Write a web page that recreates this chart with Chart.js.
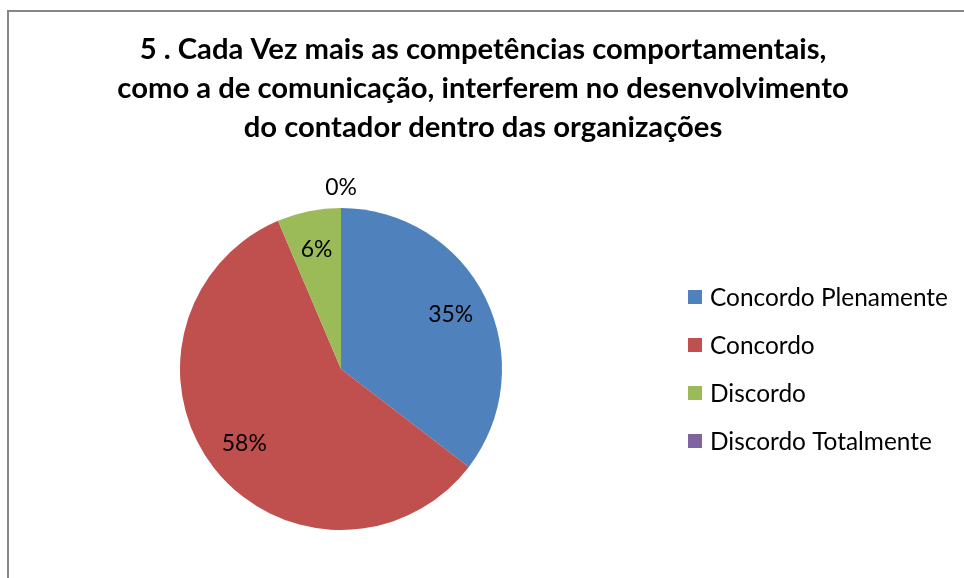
<!DOCTYPE html>
<html><head><meta charset="utf-8">
<script src="https://cdn.jsdelivr.net/npm/chart.js@4/dist/chart.umd.min.js"></script>
<style>html,body{margin:0;padding:0;background:#fff;} #wrap{position:relative;width:964px;height:578px;}</style>
</head><body><div id="wrap"><canvas id="c" width="964" height="578"></canvas></div>
<script>
const titleLines = [
  "5 . Cada Vez mais as competências comportamentais,",
  "como a de comunicação, interferem no desenvolvimento",
  "do contador dentro das organizações"
];
const categories = ["Concordo Plenamente", "Concordo", "Discordo", "Discordo Totalmente"];
const values = [35.4, 58.2, 6.4, 0];
const colors = ["#4F81BD", "#C0504D", "#9BBB59", "#8064A2"];

const FAMILY = "Lato, 'Liberation Sans', sans-serif";
const mctx = document.createElement('canvas').getContext('2d');
function fitSize(weight, text, target) {
  mctx.font = weight + " 100px " + FAMILY;
  return 100 * target / mctx.measureText(text).width;
}
const titleSize = fitSize("bold", titleLines[0], 687);
const legendSize = fitSize("normal", categories[0], 238);
const labelSize = fitSize("normal", "35%", 45);

const total = values.reduce((a, b) => a + b, 0);

const framePlugin = {
  id: 'frame',
  beforeDraw(chart) {
    const ctx = chart.ctx;
    ctx.save();
    ctx.fillStyle = '#fff';
    ctx.fillRect(0, 0, chart.width, chart.height);
    ctx.strokeStyle = '#878787';
    ctx.lineWidth = 2;
    ctx.beginPath();
    ctx.moveTo(8, chart.height + 2);
    ctx.lineTo(8, 11);
    ctx.lineTo(chart.width + 2, 11);
    ctx.stroke();
    ctx.restore();
  }
};

const titlePlugin = {
  id: 'titleText',
  afterDraw(chart) {
    const ctx = chart.ctx;
    ctx.save();
    ctx.fillStyle = '#000';
    ctx.font = "bold " + titleSize + "px " + FAMILY;
    ctx.textAlign = 'center';
    ctx.textBaseline = 'alphabetic';
    const baselines = [59, 98, 137];
    titleLines.forEach((t, i) => ctx.fillText(t, 483, baselines[i]));
    ctx.restore();
  }
};

const labelPlugin = {
  id: 'sliceLabels',
  afterDatasetsDraw(chart) {
    const ctx = chart.ctx;
    const meta = chart.getDatasetMeta(0);
    ctx.save();
    ctx.fillStyle = '#000';
    ctx.font = labelSize + "px " + FAMILY;
    ctx.textAlign = 'center';
    ctx.textBaseline = 'middle';
    meta.data.forEach((arc, i) => {
      const p = arc.getProps(['x', 'y', 'startAngle', 'endAngle', 'outerRadius'], true);
      const v = chart.data.datasets[0].data[i];
      const pct = Math.round(v / total * 100) + '%';
      let mid = (p.startAngle + p.endAngle) / 2;
      let d = p.outerRadius * 0.76;
      if (v === 0) { d = p.outerRadius + 20; }
      ctx.fillText(pct, p.x + Math.cos(mid) * d, p.y + Math.sin(mid) * d);
    });
    ctx.restore();
  }
};

const legendPlugin = {
  id: 'sideLegend',
  afterDraw(chart) {
    const ctx = chart.ctx;
    const ds = chart.data.datasets[0];
    ctx.save();
    ctx.font = legendSize + "px " + FAMILY;
    ctx.textBaseline = 'middle';
    ctx.textAlign = 'left';
    chart.data.labels.forEach((lab, i) => {
      const cy = 297 + i * 48;
      ctx.fillStyle = ds.backgroundColor[i];
      ctx.fillRect(688, cy - 7, 14, 14);
      ctx.fillStyle = '#000';
      ctx.fillText(lab, 710, cy + 1);
    });
    ctx.restore();
  }
};

new Chart(document.getElementById('c'), {
  type: 'pie',
  data: {
    labels: categories,
    datasets: [{ data: values, backgroundColor: colors, borderWidth: 0 }]
  },
  options: {
    responsive: false,
    animation: false,
    layout: { padding: { left: 180, top: 208, right: 462, bottom: 48 } },
    plugins: { legend: { display: false }, tooltip: { enabled: false }, title: { display: false } }
  },
  plugins: [framePlugin, titlePlugin, labelPlugin, legendPlugin]
});
</script>
</body></html>
